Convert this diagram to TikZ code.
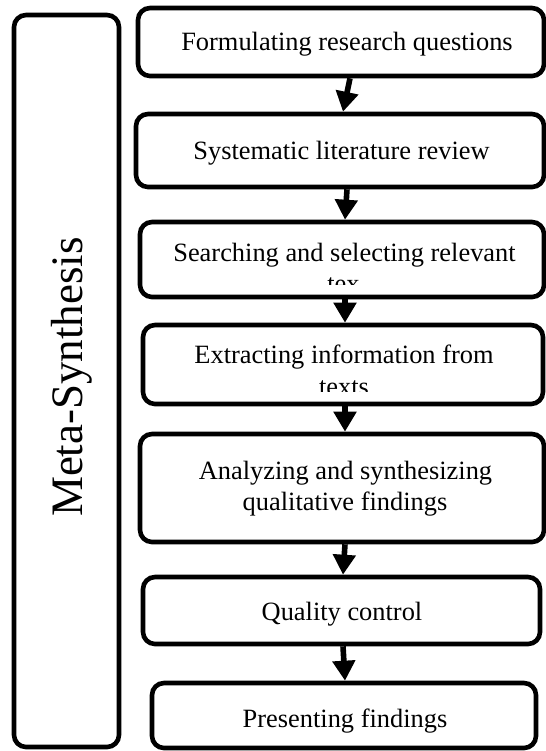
\documentclass[tikz,border=0pt]{standalone}
\usepackage{fontspec}
\setmainfont{Liberation Serif}
\usetikzlibrary{arrows.meta}
\begin{document}
\begin{tikzpicture}[x=0.5pt,y=-0.5pt,
  stepbox/.style={draw=black, line width=2.3pt, rounded corners=6pt, fill=white, inner sep=0pt},
  lbl/.style={anchor=base, font=\fontsize{13.2}{15}\selectfont, inner sep=0pt},
  flow/.style={line width=2.8pt, -{Triangle[width=11pt,length=10pt]}}]
\useasboundingbox (0,0) rectangle (546,751);
% side box
\node[stepbox, minimum width=52.5pt, minimum height=366pt] (L) at (66.5,381) {};
\node[anchor=base, rotate=90, inner sep=0pt, font=\fontsize{22.5}{26}\selectfont] (Lt) at (83,377) {Meta-Synthesis};
% step boxes
\node[stepbox, minimum width=203pt, minimum height=34pt] (b1) at (341,42) {};
\node[stepbox, minimum width=204pt, minimum height=36.5pt] (b2) at (340,150.5) {};
\node[stepbox, minimum width=202pt, minimum height=37.5pt] (b3) at (342,259.5) {};
\node[stepbox, minimum width=200pt, minimum height=39.5pt] (b4) at (343,364.5) {};
\node[stepbox, minimum width=202pt, minimum height=54pt] (b5) at (342,488) {};
\node[stepbox, minimum width=198.5pt, minimum height=33.5pt] (b6) at (341.5,610.5) {};
\node[stepbox, minimum width=192pt, minimum height=32.5pt] (b7) at (344,715.5) {};
% labels
\node[lbl] (t1) at (347,50) {Formulating research questions};
\node[lbl] (t2) at (341.5,159) {Systematic literature review};
\node[lbl] (t3) at (344.5,261) {Searching and selecting relevant};
\begin{scope}
\clip (140,265) rectangle (544,284);
\node[lbl] (t3b) at (343.5,292) {tex};
\end{scope}
\node[lbl] (t4) at (344,363) {Extracting information from};
\begin{scope}
\clip (143,370) rectangle (543,391);
\node[lbl] (t4b) at (344,395) {texts};
\end{scope}
\node[lbl] (t5a) at (345.5,479) {Analyzing and synthesizing};
\node[lbl] (t5b) at (345,510) {qualitative findings};
\node[lbl] (t6) at (342,620) {Quality control};
\node[lbl] (t7) at (345,727) {Presenting findings};
% arrows
\draw[flow] ([xshift=4.5pt]b1.south) -- ([xshift=1.5pt]b2.north);
\draw[flow] ([xshift=3.5pt]b2.south) -- ([xshift=1.5pt]b3.north);
\draw[flow] ([xshift=1.5pt]b3.south) -- ([xshift=1pt]b4.north);
\draw[flow] ([xshift=1pt]b4.south) -- ([xshift=1.5pt]b5.north);
\draw[flow] ([xshift=1.5pt]b5.south) -- ([xshift=0.75pt]b6.north);
\draw[flow] ([xshift=0.75pt]b6.south) -- ([xshift=0.5pt]b7.north);
\end{tikzpicture}
\end{document}
